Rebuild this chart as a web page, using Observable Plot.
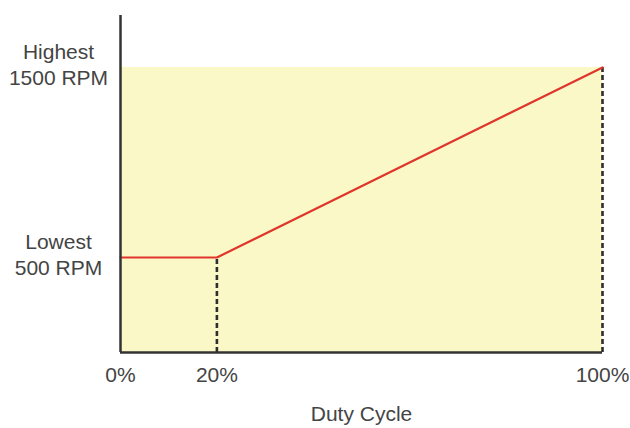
<!DOCTYPE html>
<html>
<head>
<meta charset="utf-8">
<script src="https://cdn.jsdelivr.net/npm/d3@7"></script>
<script src="https://cdn.jsdelivr.net/npm/@observablehq/plot@0.6"></script>
<style>
  html, body { margin: 0; padding: 0; background: #fff; }
  #chart svg { display: block; }
</style>
</head>
<body>
<div id="chart"></div>
<script>
// Data
const dutyCycle = [0, 20, 100];            // % duty cycle
const rpm = [500, 500, 1500];              // fan speed
const xTicks = [0, 20, 100];
const yTickValues = [1500, 500];
const yTickLabels = ["Highest\n1500 RPM", "Lowest\n500 RPM"];
const xLabel = "Duty Cycle";

const points = dutyCycle.map((d, i) => ({x: d, y: rpm[i]}));
const dashed = points.filter(p => p.x > 0);
const yLabels = yTickValues.map((v, i) => ({y: v, label: yTickLabels[i]}));
const xMax = d3.max(dutyCycle);
const yMax = d3.max(rpm);

const font = "Liberation Sans, Arial, sans-serif";

const chart = Plot.plot({
  width: 630,
  height: 428,
  marginLeft: 120,
  marginRight: 28,
  marginTop: 15,
  marginBottom: 76,
  style: {fontFamily: font, background: "#fff"},
  x: {domain: [0, xMax], axis: null},
  y: {domain: [0, yMax], range: [352, 67], axis: null},
  marks: [
    Plot.rect([{x1: 0, x2: xMax, y1: 0, y2: yMax}], {x1: "x1", x2: "x2", y1: "y1", y2: "y2", fill: "#fbf8c8"}),
    Plot.ruleX(dashed, {x: "x", y1: 0, y2: "y", stroke: "#2e2e2e", strokeWidth: 2.6, strokeDasharray: "5,3"}),
    Plot.line(points, {x: "x", y: "y", stroke: "#e0352b", strokeWidth: 2.2}),
    Plot.ruleX([0], {stroke: "#333", strokeWidth: 2.5}),
    Plot.ruleY([0], {stroke: "#333", strokeWidth: 2.5}),
    Plot.text(yLabels, {x: 0, y: "y", text: "label", dx: -62, dy: -4, textAnchor: "middle", lineAnchor: "middle", lineHeight: 1.25, fontSize: 21, fill: "#444"}),
    Plot.text(xTicks, {x: d => d, y: 0, text: d => d + "%", dy: 23, textAnchor: "middle", lineAnchor: "middle", fontSize: 21, fill: "#444"}),
    Plot.text([xLabel], {frameAnchor: "bottom", dy: 62, lineAnchor: "middle", fontSize: 21, fill: "#444"})
  ]
});
document.getElementById("chart").appendChild(chart);
</script>
</body>
</html>
